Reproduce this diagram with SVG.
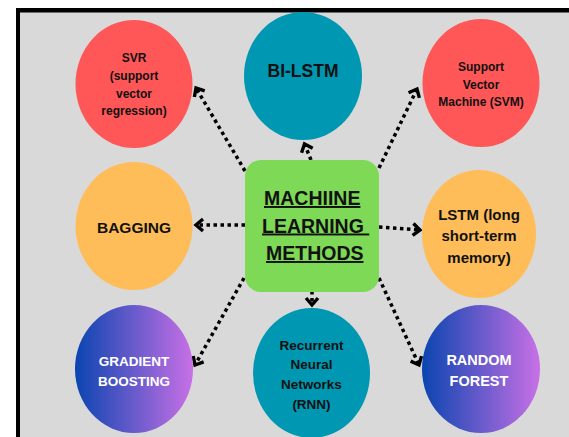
<svg xmlns="http://www.w3.org/2000/svg" width="569" height="437" viewBox="0 0 569 437">
<defs>
<linearGradient id="grad" x1="0" y1="0" x2="1" y2="0">
<stop offset="0" stop-color="#0a45b0"/>
<stop offset="1" stop-color="#c870e6"/>
</linearGradient>
<marker id="chev" markerUnits="userSpaceOnUse" viewBox="-12 -8 14 16" refX="0" refY="0" markerWidth="14" markerHeight="16" orient="auto" overflow="visible">
<path d="M-7,-6 L0,0 L-7,6" fill="none" stroke="#000" stroke-width="3.4" stroke-linejoin="miter"/>
</marker>
<style>
.t{font-family:"Liberation Sans",Arial,sans-serif;font-weight:bold;text-anchor:middle;fill:#111}
.w{fill:#fff}
.c{stroke:#000;stroke-width:3.5;stroke-dasharray:3.5 3.5;fill:none;marker-end:url(#chev)}
.u{font-family:"Liberation Sans",Arial,sans-serif;font-weight:bold;font-size:19.5px;fill:#111;text-decoration:underline;white-space:pre}
</style>
</defs>
<rect x="0" y="0" width="569" height="437" fill="#fff"/>
<rect x="16" y="8" width="560" height="440" fill="#000"/>
<rect x="20" y="12.5" width="560" height="440" fill="#d9d9d9"/>

<g id="connectors">
<line class="c" x1="245" y1="171" x2="196" y2="88"/>
<line class="c" x1="311" y1="160" x2="304.5" y2="144"/>
<line class="c" x1="379" y1="168" x2="417" y2="89"/>
<line class="c" x1="245" y1="225" x2="196" y2="225"/>
<line class="c" x1="379" y1="227" x2="420" y2="230"/>
<line class="c" x1="244" y1="278" x2="195" y2="365"/>
<line class="c" x1="312" y1="291" x2="312" y2="305"/>
<line class="c" x1="379" y1="278" x2="419" y2="365"/>
</g>

<g id="center">
<rect x="245" y="160" width="134" height="132" rx="16" fill="#7ed957"/>
<text class="u" x="264" y="205">MACHIINE</text>
<text class="u" x="262" y="232.5">LEARNING </text>
<text class="u" x="266" y="260">METHODS</text>
</g>

<g id="svr">
<ellipse cx="134" cy="84" rx="58.5" ry="64" fill="#ff5757"/>
<text class="t" font-size="12" x="134" y="62">SVR</text>
<text class="t" font-size="12" x="134" y="80">(support</text>
<text class="t" font-size="12" x="134" y="97.5">vector</text>
<text class="t" font-size="12" x="134" y="115">regression)</text>
</g>

<g id="bilstm">
<ellipse cx="303" cy="76" rx="59" ry="64" fill="#0097b2"/>
<text class="t" font-size="17.5" x="303" y="76.5">BI-LSTM</text>
</g>

<g id="svm">
<ellipse cx="481" cy="83" rx="58.5" ry="64" fill="#ff5757"/>
<text class="t" font-size="12" x="481" y="71">Support</text>
<text class="t" font-size="12" x="481" y="88.5">Vector</text>
<text class="t" font-size="12" x="481" y="106">Machine (SVM)</text>
</g>

<g id="bagging">
<ellipse cx="134" cy="226" rx="58.5" ry="64" fill="#ffbd59"/>
<text class="t" font-size="15.5" x="134" y="232.5">BAGGING</text>
</g>

<g id="lstm">
<ellipse cx="479" cy="234" rx="57" ry="64" fill="#ffbd59"/>
<text class="t" font-size="15" x="479" y="219.5">LSTM (long</text>
<text class="t" font-size="15" x="479" y="241">short-term</text>
<text class="t" font-size="15" x="479" y="262.5">memory)</text>
</g>

<g id="gradient">
<ellipse cx="134" cy="369" rx="59" ry="64" fill="url(#grad)"/>
<text class="t w" font-size="13.5" x="134" y="366">GRADIENT</text>
<text class="t w" font-size="13.5" x="134" y="385.5">BOOSTING</text>
</g>

<g id="rnn">
<ellipse cx="311.5" cy="373" rx="58.5" ry="65" fill="#0097b2"/>
<text class="t" font-size="13.5" x="311.5" y="350">Recurrent</text>
<text class="t" font-size="13.5" x="311.5" y="369">Neural</text>
<text class="t" font-size="13.5" x="311.5" y="389">Networks</text>
<text class="t" font-size="13.5" x="311.5" y="408.5">(RNN)</text>
</g>

<g id="randomforest">
<ellipse cx="481" cy="369" rx="59" ry="64" fill="url(#grad)"/>
<text class="t w" font-size="14.5" x="479" y="364.5">RANDOM</text>
<text class="t w" font-size="14.5" x="479" y="385.5">FOREST</text>
</g>
</svg>
